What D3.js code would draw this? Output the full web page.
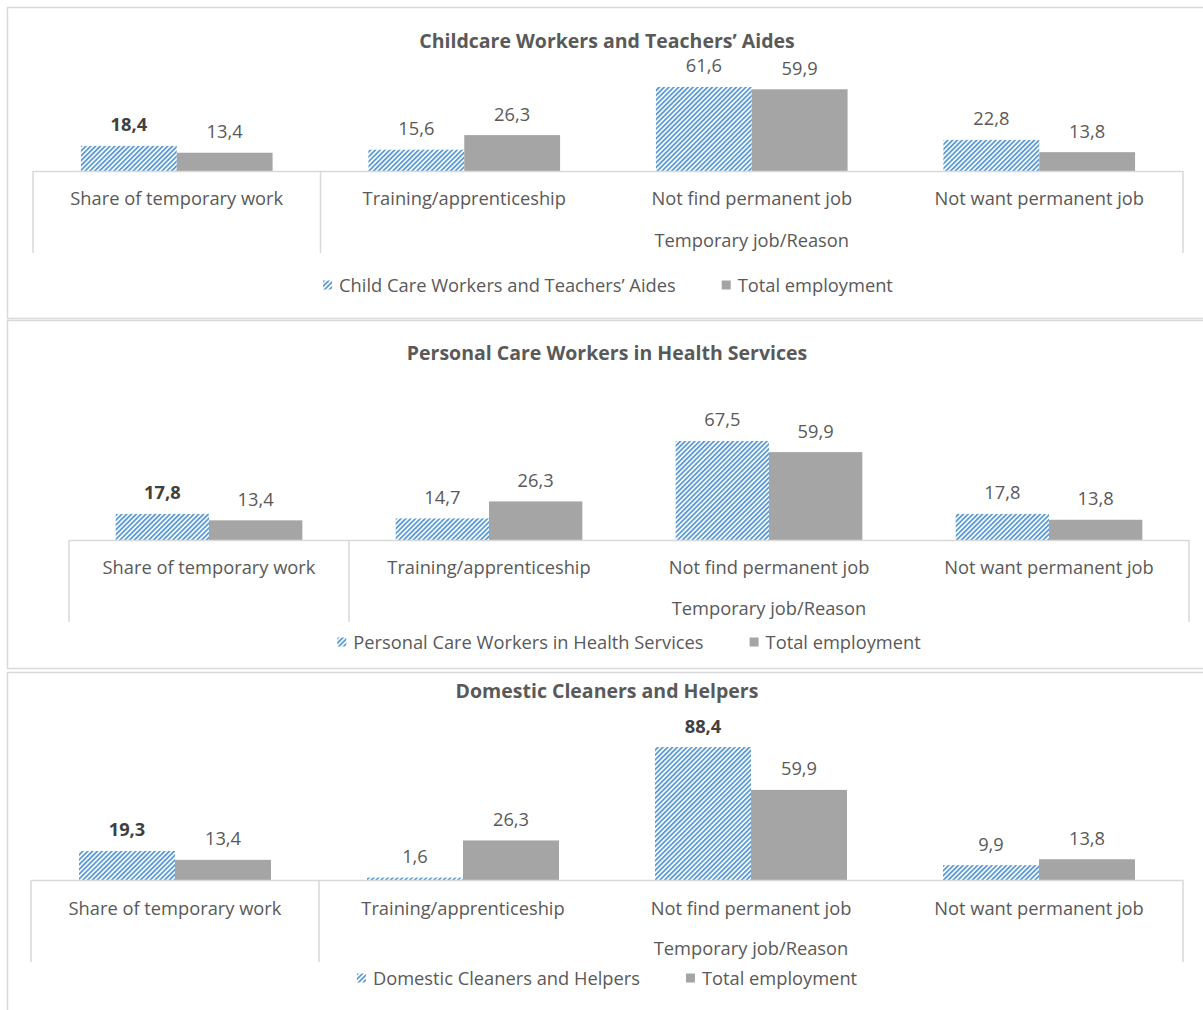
<!DOCTYPE html>
<html>
<head>
<meta charset="utf-8">
<script src="https://cdn.jsdelivr.net/npm/d3@7"></script>
<style>
  body { margin: 0; background: #fff; }
  svg text { font-family: "Open Sans", "Noto Sans", sans-serif; fill: #595959; }
</style>
</head>
<body>
<div id="chart"></div>
<script>
// datos del gráfico
var categories = ["Share of temporary work", "Training/apprenticeship", "Not find permanent job", "Not want permanent job"];
var groupLabel = "Temporary job/Reason";
var titles = ["Childcare Workers and Teachers’ Aides", "Personal Care Workers in Health Services", "Domestic Cleaners and Helpers"];
var occupationNames = ["Child Care Workers and Teachers’ Aides", "Personal Care Workers in Health Services", "Domestic Cleaners and Helpers"];
var totalName = "Total employment";
var childcareValues = [18.4, 15.6, 61.6, 22.8];
var personalCareValues = [17.8, 14.7, 67.5, 17.8];
var domesticValues = [19.3, 1.6, 88.4, 9.9];
var totalValues = [13.4, 26.3, 59.9, 13.8];
var boldLabels = [[0], [0], [0, 2]];
var domainMax = [70, 70, 100];

var occupationValues = [childcareValues, personalCareValues, domesticValues];

// layout de cada panel
var layout = [
  { top: 7,   bottom: 318, x0: 33, x1: 1183, base: 171, yTop: 75.5,  cat: 27, grp: 69, leg: 114, tick: 82, title: 41 },
  { top: 320, bottom: 668, x0: 69, x1: 1189, base: 540, yTop: 437.3, cat: 27, grp: 68, leg: 102, tick: 82, title: 353 },
  { top: 672, bottom: 1016, x0: 31, x1: 1183, base: 880, yTop: 729.6, cat: 28, grp: 68, leg: 98, tick: 82, title: 691 }
];

var width = 1203, height = 1010,
    fontSize = "18.3px",
    blue = "#5B9BD5", grey = "#A5A5A5", axisColor = "#D9D9D9";

var svg = d3.select("#chart").append("svg")
  .attr("width", width)
  .attr("height", height);

// patrón rayado azul
var defs = svg.append("defs");
var pat = defs.append("pattern")
  .attr("id", "hatch")
  .attr("patternUnits", "userSpaceOnUse")
  .attr("width", 3.4)
  .attr("height", 3.4)
  .attr("patternTransform", "rotate(45)");
pat.append("rect").attr("width", 3.4).attr("height", 3.4).attr("fill", "#fff");
pat.append("rect").attr("width", 1.8).attr("height", 3.4).attr("fill", blue);

layout.forEach(function (L, p) {
  var g = svg.append("g");

  // marco del panel
  g.append("rect")
    .attr("x", 7.5).attr("y", L.top + 0.5)
    .attr("width", 1200).attr("height", L.bottom - L.top)
    .attr("fill", "none").attr("stroke", axisColor).attr("stroke-width", 1.5);

  g.append("text")
    .attr("x", 607).attr("y", L.title - 1)
    .attr("text-anchor", "middle").attr("dominant-baseline", "central")
    .style("font-size", "19.5px").style("font-weight", "bold")
    .text(titles[p]);

  var x = d3.scaleBand().domain(categories).range([L.x0, L.x1]).paddingInner(0).paddingOuter(0);
  var x1 = d3.scaleBand().domain([0, 1]).range([0, x.bandwidth()]).paddingOuter(0.5).paddingInner(0);
  var y = d3.scaleLinear().domain([0, domainMax[p]]).range([L.base, L.yTop]);

  var rows = categories.map(function (c, i) {
    return [
      { cat: c, s: 0, v: occupationValues[p][i], bold: boldLabels[p].indexOf(i) >= 0 },
      { cat: c, s: 1, v: totalValues[i], bold: false }
    ];
  });
  var bars = d3.merge(rows);

  g.selectAll(".bar")
    .data(bars)
    .enter()
    .append("rect")
      .attr("class", "bar")
      .attr("x", function (d) { return x(d.cat) + x1(d.s); })
      .attr("width", x1.bandwidth())
      .attr("y", function (d) { return y(d.v); })
      .attr("height", function (d) { return y(0) - y(d.v); })
      .attr("fill", function (d) { return d.s === 0 ? "url(#hatch)" : grey; });

  g.selectAll(".lbl")
    .data(bars)
    .enter()
    .append("text")
      .attr("class", "lbl")
      .attr("x", function (d) { return x(d.cat) + x1(d.s) + x1.bandwidth() / 2; })
      .attr("y", function (d) { return y(d.v) - 22; })
      .attr("text-anchor", "middle").attr("dominant-baseline", "central")
      .style("font-size", fontSize)
      .style("font-weight", function (d) { return d.bold ? "bold" : "normal"; })
      .style("fill", function (d) { return d.bold ? "#404040" : "#595959"; })
      .text(function (d) { return d3.format(".1f")(d.v).replace(".", ","); });

  // eje de categorías multinivel
  g.append("line")
    .attr("x1", L.x0).attr("x2", L.x1).attr("y1", L.base + 0.5).attr("y2", L.base + 0.5)
    .attr("stroke", axisColor).attr("stroke-width", 1.5);
  [L.x0, x(categories[1]), L.x1].forEach(function (tx) {
    g.append("line")
      .attr("x1", tx).attr("x2", tx).attr("y1", L.base).attr("y2", L.base + L.tick)
      .attr("stroke", axisColor).attr("stroke-width", 1.5);
  });

  g.selectAll(".cat")
    .data(categories)
    .enter()
    .append("text")
      .attr("x", function (d) { return x(d) + x.bandwidth() / 2; })
      .attr("y", L.base + L.cat - 1)
      .attr("text-anchor", "middle").attr("dominant-baseline", "central")
      .style("font-size", fontSize)
      .text(function (d) { return d; });

  g.append("text")
    .attr("x", (x(categories[1]) + L.x1) / 2)
    .attr("y", L.base + L.grp - 1)
    .attr("text-anchor", "middle").attr("dominant-baseline", "central")
    .style("font-size", fontSize)
    .text(groupLabel);

  // leyenda
  var leg = g.append("g");
  var items = [{ name: occupationNames[p], fill: "url(#hatch)" }, { name: totalName, fill: grey }];
  var cx = 0;
  items.forEach(function (it, i) {
    var ig = leg.append("g").attr("transform", "translate(" + cx + ",0)");
    ig.append("rect").attr("x", 0).attr("y", -4.5).attr("width", 9).attr("height", 9).attr("fill", it.fill);
    var t = ig.append("text").attr("x", 16).attr("y", -1)
      .attr("dominant-baseline", "central").style("font-size", fontSize).text(it.name);
    cx += 16 + t.node().getComputedTextLength() + 46;
  });
  var legW = cx - 46;
  leg.attr("transform", "translate(" + ((L.x0 + L.x1) / 2 - legW / 2) + "," + (L.base + L.leg) + ")");
});
</script>
</body>
</html>
